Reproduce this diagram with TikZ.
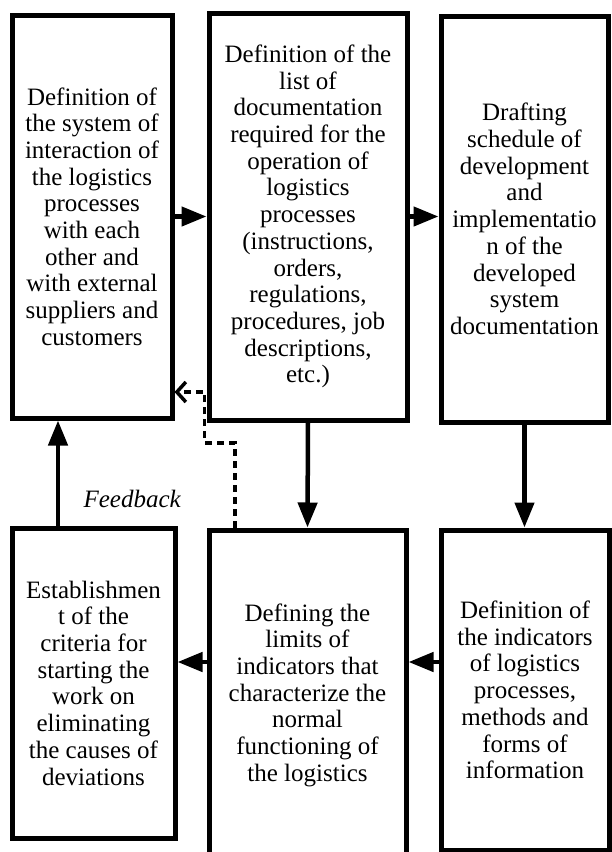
\documentclass[tikz,border=0pt]{standalone}
\usepackage{fontspec}
\setmainfont{Liberation Serif}
\usetikzlibrary{arrows.meta}

\begin{document}
\begin{tikzpicture}[x=1pt, y=1pt,
    blk/.style={draw, line width=5pt, align=center, inner sep=0pt, font=\fontsize{25}{26.7}\selectfont},
    arr/.style={line width=4.5pt, -{Triangle[length=25pt, width=19pt]}},
    fb/.style={line width=3.5pt, dash pattern=on 7pt off 5pt, -{Straight Barb[length=9pt, width=20pt]}}]
    \useasboundingbox (0,0) rectangle (612,-852);
    % top row
    \node[blk, minimum width=160, minimum height=403] (A) at (92,-216.5)
        {Definition of\\the system of\\interaction of\\the logistics\\processes\\with each\\other and\\with external\\suppliers and\\customers};
    \node[blk, minimum width=198, minimum height=407] (B) at (308,-216.5)
        {Definition of the\\list of\\documentation\\required for the\\operation of\\logistics\\processes\\(instructions,\\orders,\\regulations,\\procedures, job\\descriptions,\\etc.)};
    \node[blk, minimum width=167, minimum height=406] (C) at (524.5,-219)
        {Drafting\\schedule of\\development\\and\\implementatio\\n of the\\developed\\system\\documentation};
    % bottom row
    \node[blk, minimum width=163, minimum height=310] (D) at (93.5,-683)
        {Establishmen\\t of the\\criteria for\\starting the\\work on\\eliminating\\the causes of\\deviations};
    \node[blk, minimum width=197, minimum height=330] (E) at (307.5,-695)
        {Defining the\\limits of\\indicators that\\characterize the\\normal\\functioning of\\the logistics};
    \node[blk, minimum width=168, minimum height=320] (F) at (525,-690)
        {Definition of\\the indicators\\of logistics\\processes,\\methods and\\forms of\\information};
    \coordinate (row) at (0,-662);
    \draw[arr] (A.east) -- (B.west);
    \draw[arr] (B.east) -- (C.west |- B.east);
    \draw[arr] (B.south) -- (E.north);
    \draw[arr] (C.south) -- (C.south |- F.north);
    \draw[arr] (F.west |- row) -- (E.east |- row);
    \draw[arr] (E.west |- row) -- (D.east |- row);
    \draw[arr] ([xshift=-35.5pt]D.north) -- ([xshift=-34pt]A.south)
        node[pos=0.25, right=20pt, font=\fontsize{25}{26.7}\selectfont\itshape] (fbtext) {Feedback};
    \draw[fb] ([xshift=-72.5pt]E.north) |- ([xshift=-2pt]B.west |- 0,-443) |- (A.east |- 0,-392);
\end{tikzpicture}
\end{document}
